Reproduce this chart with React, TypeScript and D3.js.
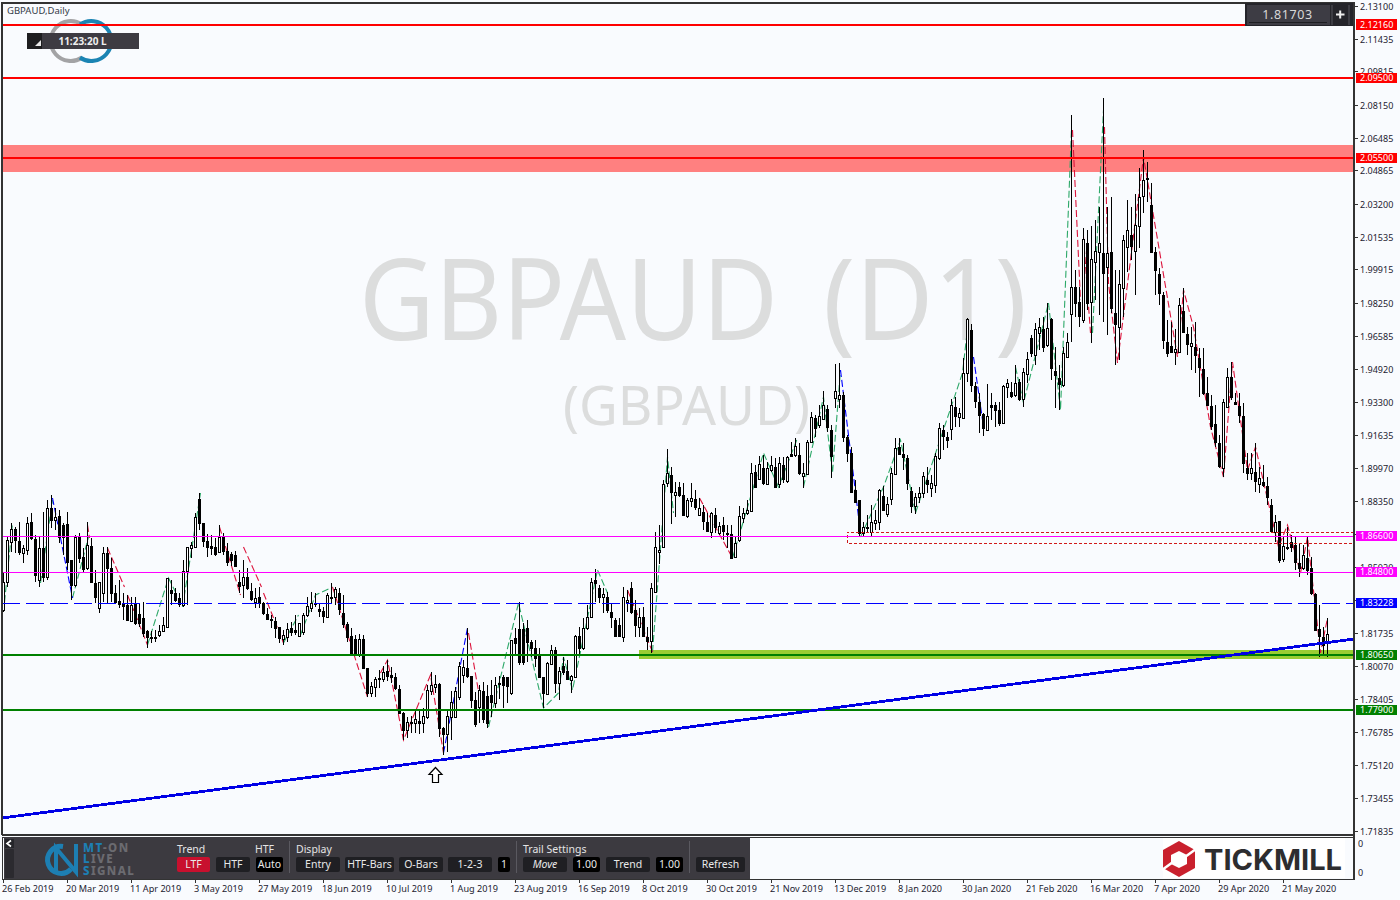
import React from "react";
import * as d3 from "d3";

type Bar = [number, number, number, number]; // open, high, low, close

const bars26Feb2019: Bar[] = [
[1.8290,1.8480,1.8280,1.8430],[1.8430,1.8655,1.8405,1.8640],[1.8630,1.8725,1.8580,1.8695],[1.8695,1.8705,1.8575,1.8640],
[1.8635,1.8730,1.8565,1.8580],[1.8575,1.8615,1.8525,1.8600],[1.8590,1.8755,1.8565,1.8725],[1.8730,1.8775,1.8640,1.8650],
[1.8645,1.8665,1.8430,1.8465],[1.8440,1.8655,1.8405,1.8600],[1.8600,1.8780,1.8430,1.8455],[1.8455,1.8840,1.8440,1.8800],
[1.8800,1.8865,1.8700,1.8740],[1.8740,1.8800,1.8690,1.8755],[1.8760,1.8790,1.8625,1.8655],[1.8715,1.8725,1.8565,1.8655]];
const bars20Mar2019: Bar[] = [
[1.8720,1.8780,1.8490,1.8530],[1.8540,1.8540,1.8340,1.8415],[1.8415,1.8665,1.8405,1.8655],[1.8655,1.8675,1.8525,1.8550],
[1.8555,1.8600,1.8475,1.8495],[1.8500,1.8730,1.8490,1.8615],[1.8610,1.8650,1.8425,1.8430],[1.8425,1.8490,1.8325,1.8355],
[1.8300,1.8430,1.8275,1.8430],[1.8375,1.8605,1.8330,1.8575],[1.8575,1.8605,1.8325,1.8500],[1.8500,1.8550,1.8330,1.8375],
[1.8375,1.8415,1.8325,1.8330],[1.8335,1.8440,1.8300,1.8320],[1.8325,1.8375,1.8240,1.8310],[1.8315,1.8365,1.8240,1.8240]];
const bars11Apr2019: Bar[] = [
[1.8235,1.8355,1.8230,1.8315],[1.8320,1.8355,1.8215,1.8225],[1.8270,1.8325,1.8205,1.8225],[1.8250,1.8330,1.8155,1.8175],
[1.8185,1.8190,1.8100,1.8155],[1.8155,1.8185,1.8125,1.8153],[1.8153,1.8190,1.8130,1.8155],[1.8165,1.8215,1.8155,1.8185],
[1.8185,1.8255,1.8180,1.8215],[1.8205,1.8450,1.8200,1.8450],[1.8390,1.8440,1.8315,1.8375],[1.8375,1.8400,1.8330,1.8340],
[1.8350,1.8375,1.8305,1.8320],[1.8315,1.8540,1.8305,1.8485],[1.8485,1.8605,1.8315,1.8605],[1.8600,1.8630,1.8550,1.8615]];
const bars3May2019: Bar[] = [
[1.8605,1.8775,1.8600,1.8755],[1.8845,1.8875,1.8690,1.8725],[1.8725,1.8725,1.8605,1.8635],[1.8635,1.8670,1.8555,1.8605],
[1.8610,1.8665,1.8565,1.8600],[1.8605,1.8650,1.8560,1.8570],[1.8580,1.8715,1.8575,1.8655],[1.8655,1.8675,1.8565,1.8585],
[1.8585,1.8625,1.8510,1.8530],[1.8570,1.8580,1.8510,1.8540],[1.8565,1.8585,1.8505,1.8510],[1.8430,1.8490,1.8375,1.8410],
[1.8415,1.8540,1.8350,1.8455],[1.8455,1.8500,1.8390,1.8400],[1.8385,1.8425,1.8335,1.8345],[1.8330,1.8400,1.8300,1.8350]];
const bars27May2019: Bar[] = [
[1.8355,1.8405,1.8300,1.8325],[1.8325,1.8330,1.8265,1.8275],[1.8270,1.8300,1.8240,1.8245],[1.8245,1.8265,1.8200,1.8240],
[1.8235,1.8255,1.8150,1.8200],[1.8205,1.8205,1.8125,1.8150],[1.8145,1.8190,1.8115,1.8165],[1.8155,1.8225,1.8130,1.8195],
[1.8200,1.8230,1.8160,1.8180],[1.8190,1.8265,1.8165,1.8180],[1.8160,1.8225,1.8155,1.8225],[1.8180,1.8275,1.8165,1.8265],
[1.8265,1.8355,1.8255,1.8310],[1.8300,1.8380,1.8280,1.8325],[1.8325,1.8375,1.8305,1.8320],[1.8295,1.8325,1.8255,1.8285]];
const bars18Jun2019: Bar[] = [
[1.8285,1.8305,1.8225,1.8260],[1.8255,1.8375,1.8250,1.8365],[1.8355,1.8425,1.8325,1.8350],[1.8355,1.8405,1.8315,1.8395],
[1.8375,1.8400,1.8265,1.8295],[1.8275,1.8365,1.8200,1.8220],[1.8220,1.8230,1.8130,1.8155],[1.8160,1.8200,1.8070,1.8075],
[1.8145,1.8165,1.8065,1.8075],[1.8065,1.8170,1.8055,1.8145],[1.8145,1.8165,1.7995,1.8000],[1.8000,1.8000,1.7855,1.7875],
[1.7875,1.7930,1.7855,1.7910],[1.7905,1.7955,1.7855,1.7945],[1.7950,1.7990,1.7900,1.7948],[1.7945,1.8010,1.7930,1.7980]];
const bars10Jul2019: Bar[] = [
[1.7985,1.8040,1.7935,1.7960],[1.7965,1.8005,1.7925,1.7955],[1.7955,1.7975,1.7890,1.7900],[1.7895,1.7915,1.7775,1.7775],
[1.7775,1.7780,1.7640,1.7690],[1.7690,1.7755,1.7650,1.7730],[1.7730,1.7760,1.7675,1.7728],[1.7725,1.7785,1.7675,1.7745],
[1.7735,1.7790,1.7670,1.7725],[1.7725,1.7800,1.7675,1.7760],[1.7755,1.7915,1.7745,1.7890],[1.7885,1.7980,1.7865,1.7915],
[1.7905,1.7965,1.7875,1.7920],[1.7920,1.7925,1.7655,1.7700],[1.7700,1.7705,1.7565,1.7670],[1.7670,1.7785,1.7580,1.7760]];
const bars1Aug2019: Bar[] = [
[1.7755,1.7885,1.7640,1.7830],[1.7755,1.7905,1.7755,1.7885],[1.7855,1.8030,1.7840,1.8010],[1.7965,1.8040,1.7925,1.8005],
[1.8000,1.8200,1.7950,1.7960],[1.7960,1.7960,1.7800,1.7840],[1.7840,1.7880,1.7705,1.7720],[1.7805,1.7915,1.7725,1.7890],
[1.7885,1.7930,1.7725,1.7745],[1.7860,1.7915,1.7700,1.7725],[1.7865,1.7940,1.7755,1.7830],[1.7825,1.7955,1.7800,1.7915],
[1.7925,1.7960,1.7845,1.7923],[1.7955,1.7965,1.7800,1.7915],[1.7955,1.7955,1.7825,1.7910],[1.7875,1.8140,1.7865,1.8140]];
const bars23Aug2019: Bar[] = [
[1.8150,1.8200,1.8065,1.8125],[1.8195,1.8330,1.8015,1.8030],[1.8195,1.8225,1.8015,1.8030],[1.8200,1.8240,1.8030,1.8130],
[1.8130,1.8140,1.8055,1.8100],[1.8100,1.8140,1.8005,1.8050],[1.8065,1.8100,1.7950,1.7955],[1.7955,1.7955,1.7800,1.7875],
[1.7870,1.8030,1.7865,1.8025],[1.8020,1.8115,1.8015,1.8090],[1.8090,1.8105,1.7875,1.7925],[1.7925,1.8005,1.7840,1.7985],
[1.8010,1.8055,1.7965,1.7980],[1.7985,1.8040,1.7940,1.7945],[1.7940,1.7965,1.7875,1.7960],[1.7955,1.8165,1.7950,1.8160]];
const bars16Sep2019: Bar[] = [
[1.8160,1.8205,1.8065,1.8100],[1.8100,1.8250,1.8090,1.8200],[1.8200,1.8315,1.8190,1.8255],[1.8255,1.8450,1.8250,1.8430],
[1.8440,1.8495,1.8330,1.8425],[1.8400,1.8415,1.8325,1.8355],[1.8355,1.8400,1.8275,1.8370],[1.8355,1.8380,1.8275,1.8290],
[1.8280,1.8325,1.8200,1.8255],[1.8240,1.8250,1.8155,1.8160],[1.8215,1.8250,1.8155,1.8160],[1.8155,1.8405,1.8130,1.8355],
[1.8330,1.8390,1.8280,1.8340],[1.8400,1.8430,1.8270,1.8280],[1.8290,1.8340,1.8155,1.8215],[1.8205,1.8300,1.8155,1.8255]];
const bars8Oct2019: Bar[] = [
[1.8255,1.8305,1.8155,1.8160],[1.8155,1.8205,1.8090,1.8135],[1.8135,1.8425,1.8075,1.8400],[1.8380,1.8680,1.8375,1.8605],
[1.8580,1.8715,1.8520,1.8590],[1.8605,1.8940,1.8600,1.8920],[1.8925,1.9095,1.8905,1.8975],[1.8965,1.9005,1.8720,1.8880],
[1.8865,1.8930,1.8755,1.8880],[1.8905,1.8930,1.8855,1.8865],[1.8865,1.8925,1.8765,1.8765],[1.8760,1.8850,1.8750,1.8840],
[1.8835,1.8925,1.8805,1.8850],[1.8845,1.8890,1.8790,1.8805],[1.8765,1.8850,1.8765,1.8800],[1.8780,1.8815,1.8690,1.8735]];
const bars30Oct2019: Bar[] = [
[1.8730,1.8775,1.8685,1.8685],[1.8680,1.8780,1.8650,1.8775],[1.8765,1.8800,1.8675,1.8705],[1.8675,1.8730,1.8665,1.8710],
[1.8715,1.8755,1.8640,1.8685],[1.8675,1.8715,1.8600,1.8673],[1.8670,1.8715,1.8550,1.8550],[1.8555,1.8655,1.8550,1.8625],
[1.8640,1.8810,1.8630,1.8760],[1.8750,1.8800,1.8725,1.8775],[1.8775,1.8840,1.8765,1.8790],[1.8785,1.9025,1.8780,1.8975],
[1.8980,1.9015,1.8905,1.8905],[1.8945,1.9060,1.8940,1.9020],[1.9000,1.9065,1.8915,1.8925],[1.8920,1.9030,1.8915,1.9000]];
const bars21Nov2019: Bar[] = [
[1.8990,1.9060,1.8980,1.9015],[1.9005,1.9050,1.8900,1.8905],[1.8920,1.9055,1.8900,1.9025],[1.9015,1.9055,1.8925,1.8945],
[1.8935,1.9060,1.8925,1.9055],[1.9070,1.9130,1.9055,1.9060],[1.9065,1.9150,1.9055,1.9110],[1.9065,1.9125,1.8965,1.8975],
[1.8960,1.9025,1.8900,1.8975],[1.8970,1.9140,1.8965,1.9130],[1.9130,1.9280,1.9125,1.9255],[1.9250,1.9265,1.9155,1.9200],
[1.9215,1.9315,1.9200,1.9260],[1.9245,1.9385,1.9240,1.9315],[1.9295,1.9315,1.9180,1.9205],[1.9190,1.9215,1.8950,1.9060]];
const bars13Dec2019: Bar[] = [
[1.9350,1.9520,1.9300,1.9385],[1.9345,1.9525,1.9300,1.9365],[1.9365,1.9380,1.9130,1.9155],[1.9155,1.9165,1.9030,1.9075],
[1.9075,1.9105,1.8875,1.8880],[1.8890,1.8940,1.8825,1.8830],[1.8840,1.8840,1.8655,1.8675],[1.8675,1.8730,1.8660,1.8705],
[1.8705,1.8765,1.8680,1.8703],[1.8680,1.8815,1.8655,1.8730],[1.8725,1.8790,1.8690,1.8740],[1.8730,1.8895,1.8690,1.8890],
[1.8860,1.8910,1.8790,1.8790],[1.8770,1.8855,1.8755,1.8820],[1.8845,1.9000,1.8815,1.8975],[1.8970,1.9150,1.8965,1.9100]];
const bars8Jan2020: Bar[] = [
[1.9105,1.9150,1.9065,1.9070],[1.9070,1.9125,1.8990,1.9055],[1.9050,1.9065,1.8890,1.8925],[1.8885,1.8905,1.8775,1.8810],
[1.8810,1.8875,1.8770,1.8855],[1.8855,1.8905,1.8825,1.8875],[1.8875,1.8980,1.8850,1.8960],[1.8940,1.9005,1.8875,1.8920],
[1.8900,1.8965,1.8855,1.8925],[1.8915,1.9075,1.8875,1.9060],[1.9050,1.9225,1.9040,1.9200],[1.9190,1.9215,1.9090,1.9160],
[1.9155,1.9180,1.9100,1.9140],[1.9195,1.9345,1.9140,1.9315],[1.9305,1.9355,1.9205,1.9260],[1.9255,1.9300,1.9205,1.9275]];
const bars30Jan2020: Bar[] = [
[1.9250,1.9550,1.9245,1.9475],[1.9475,1.9750,1.9430,1.9745],[1.9690,1.9720,1.9380,1.9415],[1.9410,1.9430,1.9300,1.9335],
[1.9330,1.9375,1.9175,1.9265],[1.9270,1.9275,1.9160,1.9200],[1.9190,1.9420,1.9185,1.9260],[1.9315,1.9375,1.9240,1.9305],
[1.9315,1.9330,1.9205,1.9290],[1.9290,1.9330,1.9210,1.9225],[1.9225,1.9415,1.9220,1.9410],[1.9405,1.9445,1.9350,1.9425],
[1.9380,1.9430,1.9350,1.9360],[1.9365,1.9515,1.9355,1.9425],[1.9430,1.9445,1.9335,1.9345],[1.9345,1.9500,1.9305,1.9480]];
const bars21Feb2020: Bar[] = [
[1.9470,1.9580,1.9425,1.9545],[1.9650,1.9665,1.9555,1.9575],[1.9565,1.9725,1.9515,1.9695],[1.9675,1.9750,1.9590,1.9705],
[1.9695,1.9755,1.9580,1.9605],[1.9615,1.9825,1.9605,1.9700],[1.9745,1.9750,1.9440,1.9500],[1.9485,1.9605,1.9300,1.9465],
[1.9450,1.9515,1.9290,1.9420],[1.9415,1.9605,1.9405,1.9575],[1.9555,1.9675,1.9550,1.9630],[1.9770,2.0765,1.9630,1.9905],
[1.9905,1.9990,1.9755,1.9825],[1.9830,1.9905,1.9705,1.9760],[1.9740,2.0200,1.9725,2.0145],[2.0125,2.0190,1.9790,1.9825]];
const bars16Mar2020: Bar[] = [
[1.9830,2.0210,1.9625,2.0045],[2.0030,2.0240,1.9840,2.0085],[2.0080,2.0305,1.9765,2.0125],[2.0075,2.0850,1.9730,1.9975],
[2.0005,2.0305,1.9665,2.0075],[2.0080,2.0355,1.9775,1.9800],[1.9775,1.9990,1.9515,1.9720],[1.9705,1.9990,1.9540,1.9920],
[1.9900,2.0165,1.9755,2.0140],[2.0105,2.0340,1.9980,2.0190],[2.0165,2.0305,2.0040,2.0110],[2.0085,2.0370,1.9865,2.0215],
[2.0210,2.0500,2.0100,2.0355],[2.0360,2.0590,2.0275,2.0440],[2.0450,2.0530,2.0330,2.0448],[2.0315,2.0425,2.0075,2.0080]];
const bars7Apr2020: Bar[] = [
[2.0080,2.0105,1.9865,1.9990],[1.9970,2.0000,1.9815,1.9875],[1.9865,1.9880,1.9595,1.9640],[1.9630,1.9740,1.9555,1.9575],
[1.9610,1.9730,1.9575,1.9580],[1.9580,1.9695,1.9515,1.9595],[1.9580,1.9850,1.9575,1.9815],[1.9785,1.9900,1.9680,1.9680],
[1.9670,1.9705,1.9565,1.9620],[1.9610,1.9705,1.9490,1.9625],[1.9605,1.9730,1.9475,1.9565],[1.9550,1.9600,1.9355,1.9505],
[1.9495,1.9600,1.9365,1.9375],[1.9375,1.9455,1.9310,1.9315],[1.9310,1.9365,1.9190,1.9210],[1.9220,1.9315,1.9105,1.9130]];
const bars29Apr2020: Bar[] = [
[1.9125,1.9165,1.9000,1.9010],[1.9000,1.9345,1.8955,1.9330],[1.9305,1.9500,1.9305,1.9455],[1.9455,1.9530,1.9340,1.9355],
[1.9330,1.9375,1.9315,1.9320],[1.9310,1.9375,1.9225,1.9265],[1.9260,1.9325,1.8975,1.9025],[1.9000,1.9075,1.8940,1.8975],
[1.8975,1.9075,1.8940,1.9000],[1.8980,1.9125,1.8880,1.8935],[1.8920,1.9005,1.8875,1.8950],[1.8930,1.9015,1.8905,1.8915],
[1.8910,1.8955,1.8815,1.8855],[1.8815,1.8845,1.8680,1.8685],[1.8680,1.8765,1.8630,1.8730],[1.8735,1.8735,1.8525,1.8540]];
const bars21May2020: Bar[] = [
[1.8545,1.8655,1.8530,1.8610],[1.8605,1.8705,1.8590,1.8603],[1.8630,1.8665,1.8580,1.8605],[1.8615,1.8655,1.8490,1.8530],
[1.8525,1.8625,1.8455,1.8500],[1.8500,1.8615,1.8490,1.8565],[1.8550,1.8655,1.8465,1.8490],[1.8500,1.8555,1.8365,1.8375],
[1.8370,1.8375,1.8185,1.8190],[1.8195,1.8315,1.8055,1.8160],[1.8155,1.8205,1.8060,1.8115],[1.8135,1.8250,1.8055,1.8170]];

const allBars: Bar[] = [
  ...bars26Feb2019, ...bars20Mar2019, ...bars11Apr2019, ...bars3May2019, ...bars27May2019, ...bars18Jun2019, ...bars10Jul2019,
  ...bars1Aug2019, ...bars23Aug2019, ...bars16Sep2019, ...bars8Oct2019, ...bars30Oct2019, ...bars21Nov2019, ...bars13Dec2019,
  ...bars8Jan2020, ...bars30Jan2020, ...bars21Feb2020, ...bars16Mar2020, ...bars7Apr2020, ...bars29Apr2020, ...bars21May2020,
];

const dateLabels = ["26 Feb 2019","20 Mar 2019","11 Apr 2019","3 May 2019","27 May 2019","18 Jun 2019","10 Jul 2019","1 Aug 2019","23 Aug 2019","16 Sep 2019","8 Oct 2019","30 Oct 2019","21 Nov 2019","13 Dec 2019","8 Jan 2020","30 Jan 2020","21 Feb 2020","16 Mar 2020","7 Apr 2020","29 Apr 2020","21 May 2020"];
const dateStep = 16;
const priceTicks = [2.131,2.11435,2.09815,2.0815,2.06485,2.04865,2.032,2.01535,1.99915,1.9825,1.96585,1.9492,1.933,1.91635,1.8997,1.8835,1.8502,1.81735,1.8007,1.78405,1.76785,1.7512,1.73455,1.71835];
const hiddenPriceTicks = [1.86685, 1.834];

type Pt = [number, number];
const greenSignals: Pt[][] = [
  [[0,1.8280],[2.25,1.8725]],
  [[9.25,1.8425],[12.25,1.8840]],
  [[17.25,1.8350],[21.25,1.8655]],
  [[36,1.8115],[41.25,1.8450],[43,1.8380]],
  [[44.75,1.8305],[49.25,1.8875]],
  [[70,1.8125],[73.75,1.8265]],
  [[74.25,1.8165],[78,1.8365],[82.25,1.8405]],
  [[121.25,1.7705],[128.75,1.8325],[135,1.7800],[138.75,1.7875],[140,1.8055],[142.25,1.7890],[148.5,1.8490],[151,1.8375]],
  [[162.25,1.8080],[166,1.9055],[167.5,1.8775]],
  [[182.25,1.8550],[190,1.9075],[193.75,1.8905],[198.5,1.9150]],
  [[200,1.8905],[205,1.9355],[207.25,1.8975],[209.25,1.9490]],
  [[214.25,1.8655],[220,1.8905],[224.25,1.9140],[228,1.8775],[239.75,1.9475],[241.25,1.9740]],
  [[253,1.9505],[255,1.9325],[261.25,1.9825],[264.25,1.9290],[267,2.0690]],
  [[272.25,1.9675],[275,2.0790]],
];
const redSignals: Pt[][] = [
  [[21,1.8715],[21.5,1.8650]],
  [[26,1.8600],[30.25,1.8405]],
  [[31,1.8365],[36,1.8115]],
  [[54,1.8705],[59.25,1.8365]],
  [[60,1.8605],[64.5,1.8405]],
  [[65,1.8375],[70,1.8125]],
  [[82.25,1.8405],[91,1.7855]],
  [[94.25,1.7975],[96,1.8040],[100,1.7640],[106.75,1.7965],[110,1.7575]],
  [[116.25,1.8175],[119.25,1.7825]],
  [[156,1.8390],[162.25,1.8080]],
  [[174,1.8850],[182.25,1.8550]],
  [[267.25,2.0690],[269.25,1.9840]],
  [[270,2.0155],[271.75,1.9675]],
  [[275.25,2.0705],[276.25,1.9925],[278.5,1.9525],[285,2.0555],[293.5,1.9555],[295,1.9890],[297.5,1.9705],[301.75,1.9205],[305,1.8955],[307.25,1.9530],[311,1.8990],[313,1.9105],[318.75,1.8605],[321,1.8715],[324.25,1.8475],[326,1.8655],[329.25,1.8075],[331,1.8250]],
];
const blueSignals: Pt[][] = [
  [[12.25,1.8850],[17.25,1.8350]],
  [[110,1.7575],[116,1.8200]],
  [[209.25,1.9490],[214.25,1.8675]],
  [[242.5,1.9555],[244.75,1.9240]],
  [[261,1.9775],[261,1.9690]],
];

const levelValues = [2.1216, 2.095, 2.055, 1.866, 1.848, 1.83228, 1.8065, 1.779];
const levelColors = ["#ff0000","#ff0000","#ff0000","#ff00ff","#ff00ff","#0000ff","#008000","#008000"];
const levelWidths = [2, 2, 2, 1, 1, 1, 2, 2];
const redBand = [2.0615, 2.048];
const greenBand = [1.8088, 1.8045];
const greenBandStartBar = 159;
const dashedBox = [1.868, 1.8625];
const dashedBoxStartBar = 211;
const trendLine: Pt[] = [[-0.25, 1.725], [337.75, 1.8145]];
const arrowBar = 108;
const arrowPrice = 1.7465;
const lastPrice = "1.81703";

const FONT = "'Noto Sans', 'Liberation Sans', sans-serif";
const BG = "#f9fbfe";
const INK = "#1d2230";

const x = d3.scaleLinear().domain([0, 331]).range([3, 1327]);
const y = d3.scaleLinear().domain([2.134, 1.7155]).range([0, 837]);
const line = d3.line<Pt>().x((d) => x(d[0]) + 0.5).y((d) => y(d[1]));

function Button({ x0, w, label, fill = "#1f1f23", italic = false }: { x0: number; w: number; label: string; fill?: string; italic?: boolean }) {
  return (
    <g>
      <rect x={x0} y={857} width={w} height={15} rx={2} fill={fill} />
      <text x={x0 + w / 2} y={868} textAnchor="middle" fontFamily={FONT} fontSize={10.5} fill="#e8e8e8" fontStyle={italic ? "italic" : "normal"}>{label}</text>
    </g>
  );
}

function Candles() {
  return (
    <g shapeRendering="crispEdges">
      {allBars.map(([o, h, l, c], i) => {
        const cx = Math.round(x(i));
        const top = Math.round(y(Math.max(o, c)));
        const bot = Math.max(Math.round(y(Math.min(o, c))), top + 1);
        const wickTop = Math.round(y(h));
        const wickBot = Math.round(y(l));
        return (
          <g key={i}>
            <rect x={cx} y={wickTop} width={1} height={Math.max(1, wickBot - wickTop)} fill="#000" />
            <rect x={cx - 1} y={top} width={3} height={bot - top + 1} fill="#000" />
            {c >= o && bot - top >= 2 && <rect x={cx} y={top + 1} width={1} height={bot - top - 1} fill="#fff" />}
          </g>
        );
      })}
    </g>
  );
}

export default function App() {
  const xLeft = 2;
  const xRight = 1354;
  const dashedTop = y(dashedBox[0]);
  const dashedBottom = y(dashedBox[1]);
  const dashedX = x(dashedBoxStartBar);
  const arrowX = x(arrowBar) + 0.5;
  const arrowY = y(arrowPrice);
  return (
    <>
      <style>{`html,body{margin:0;padding:0;background:${BG};overflow:hidden}`}</style>
      <svg width={1400} height={900} viewBox="0 0 1400 900" style={{ position: "absolute", left: 0, top: 0, display: "block" }}>
        <rect width={1400} height={900} fill={BG} />

        {/* watermark */}
        <text y={340} fontFamily={FONT} fontSize={114} fill="#dcdddd">
          <tspan x={359} textLength={419} lengthAdjust="spacingAndGlyphs">GBPAUD</tspan>
          <tspan x={823} textLength={204} lengthAdjust="spacingAndGlyphs">(D1)</tspan>
        </text>
        <text x={563} y={425} fontFamily={FONT} fontSize={54} textLength={247} lengthAdjust="spacingAndGlyphs" fill="#dcdddd">(GBPAUD)</text>

        {/* logo behind the levels */}
        <path d="M82,24.5 A20,20 0 1 0 82,57.5" fill="none" stroke="#a3a3a5" strokeWidth={4} />
        <path d="M80,24.5 A20,20 0 1 1 80,57.5" fill="none" stroke="#1b84b3" strokeWidth={4} />

        {/* zones */}
        <rect x={xLeft} width={xRight - xLeft} y={y(redBand[0])} height={y(redBand[1]) - y(redBand[0])} fill="#ff8080" shapeRendering="crispEdges" />
        <rect x={x(greenBandStartBar)} width={xRight - x(greenBandStartBar)} y={y(greenBand[0])} height={y(greenBand[1]) - y(greenBand[0])} fill="#9acd32" shapeRendering="crispEdges" />

        {/* signal lines */}
        <g fill="none" strokeWidth={1.1} strokeDasharray="7 3">
          {greenSignals.map((s, i) => <path key={i} d={line(s) ?? ""} stroke="#2ca868" />)}
          {redSignals.map((s, i) => <path key={i} d={line(s) ?? ""} stroke="#dc143c" />)}
          {blueSignals.map((s, i) => <path key={i} d={line(s) ?? ""} stroke="#0000ff" />)}
        </g>

        <Candles />

        {/* dashed box */}
        <path d={`M${xRight},${dashedTop}H${dashedX}V${dashedBottom}H${xRight}`} fill="none" stroke="#d01818" strokeWidth={1} strokeDasharray="3 2" shapeRendering="crispEdges" />

        {/* levels */}
        {levelValues.map((v, i) => (
          <line key={v} x1={xLeft} x2={xRight} y1={y(v)} y2={y(v)} stroke={levelColors[i]} strokeWidth={levelWidths[i]}
            strokeDasharray={i === 5 ? "18 6" : undefined} shapeRendering="crispEdges" />
        ))}
        <path d={d3.line<Pt>().x((d) => x(d[0])).y((d) => y(d[1]))(trendLine) ?? ""} stroke="#0000e6" strokeWidth={2.8} fill="none" shapeRendering="crispEdges" />

        {/* up arrow */}
        <path transform={`translate(${arrowX},${arrowY})`} d="M0,-7.5 L6.5,-0.5 L3,-0.5 L3,7.5 L-3,7.5 L-3,-0.5 L-6.5,-0.5 Z" fill="#fff" stroke="#000" strokeWidth={1.2} />

        {/* frame */}
        <g fill="none" stroke="#333" strokeWidth={1} shapeRendering="crispEdges">
          <path d={`M2,835V2.5H${xRight}V880`} strokeWidth={2} />
          <line x1={2} x2={xRight} y1={835} y2={835} strokeWidth={1.5} />
          <line x1={2} x2={xRight} y1={837} y2={837} />
          <line x1={2} x2={xRight} y1={879.5} y2={879.5} />
          <line x1={2} x2={2} y1={837} y2={880} />
        </g>

        {/* price axis */}
        {hiddenPriceTicks.map((p) => (
          <line key={p} x1={xRight} x2={xRight + 4} y1={y(p)} y2={y(p)} stroke="#333" shapeRendering="crispEdges" />
        ))}
        <g fontFamily={FONT} fontSize={9} fill={INK}>
          {priceTicks.map((p) => (
            <g key={p}>
              <line x1={xRight} x2={xRight + 4} y1={y(p)} y2={y(p)} stroke="#333" shapeRendering="crispEdges" />
              <text x={1360} y={y(p) + 3.5}>{p.toFixed(5)}</text>
            </g>
          ))}
          <text x={1358} y={846.5}>0</text>
          <text x={1358} y={876}>0</text>
        </g>
        <g fontFamily={FONT} fontSize={9}>
          {levelValues.map((v, i) => (
            <g key={v}>
              <rect x={1356} y={y(v) - 5.5} width={41} height={10.5} fill={levelColors[i]} shapeRendering="crispEdges" />
              <text x={1360} y={y(v) + 3} fill="#fff">{v.toFixed(5)}</text>
            </g>
          ))}
        </g>

        {/* time axis */}
        <g fontFamily={FONT} fontSize={9.15} fill={INK}>
          {dateLabels.map((d, i) => (
            <g key={d}>
              <line x1={x(i * dateStep)} x2={x(i * dateStep)} y1={879} y2={883} stroke="#333" shapeRendering="crispEdges" />
              <text x={x(i * dateStep) - 1} y={892}>{d}</text>
            </g>
          ))}
        </g>

        {/* title and clock */}
        <text x={7} y={14} fontFamily={FONT} fontSize={9.5} fill="#333a48">GBPAUD,Daily</text>
        <rect x={27} y={33} width={112} height={16} fill="#3d3b42" />
        <rect x={27} y={33} width={15} height={16} fill="#1e1e20" />
        <path d="M35,46 L41,46 L41,40 Z" fill="#e8e8e8" />
        <text x={82.5} y={44.5} textAnchor="middle" fontFamily={FONT} fontSize={10} fontWeight={700} fill="#eeeeee">11:23:20 L</text>

        {/* last price box */}
        <rect x={1245} y={3} width={108} height={23} fill="#24242a" />
        <rect x={1247} y={5} width={83} height={20} fill="#3d3c44" />
        <line x1={1249} x2={1327} y1={22.5} y2={22.5} stroke="#1e1e22" />
        <text x={1287.5} y={19} textAnchor="middle" fontFamily={FONT} fontSize={12.5} letterSpacing={0.6} fill="#d8d8d8">{lastPrice}</text>
        <line x1={1332} x2={1332} y1={5} y2={25} stroke="#55545c" />
        <line x1={1349} x2={1349} y1={5} y2={25} stroke="#55545c" />
        <path d="M1336,14.5H1344.5M1340.2,10.5V18.5" stroke="#eee" strokeWidth={2} fill="none" />

        {/* indicator panel */}
        <rect x={4} y={837} width={746} height={42} fill="#3c3a40" />
        <rect x={5} y={839} width={9} height={9} fill="#25252a" />
        <path d="M11,840.5 L7,843.5 L11,846.5" stroke="#fff" strokeWidth={1.6} fill="none" />
        <rect x={5} y={849} width={9} height={29} rx={1} fill="#2b2a2f" />
        <path d="M63,846.5 A13.5,13.5 0 1 0 71,869" fill="none" stroke="#1d7fb3" strokeWidth={5} />
        <path d="M56,873 V848 L76,872 V844" fill="none" stroke="#1d7fb3" strokeWidth={4} />
        <g fontFamily={FONT} fontSize={11.5} fontWeight={800} letterSpacing={1.4}>
          <text x={83} y={851.5} fill="#6b6b70"><tspan fill="#1d7fb3">M</tspan><tspan fill="#1d7fb3">T</tspan>-ON</text>
          <text x={83} y={863} fill="#6b6b70"><tspan fill="#1d7fb3">L</tspan>IVE</text>
          <text x={83} y={874.5} fill="#6b6b70"><tspan fill="#1d7fb3">S</tspan>IGNAL</text>
        </g>
        <g fontFamily={FONT} fontSize={10.5} fill="#e4e4e4">
          <text x={177} y={853}>Trend</text>
          <text x={255} y={853}>HTF</text>
          <text x={296} y={853}>Display</text>
          <text x={523} y={853}>Trail Settings</text>
        </g>
        <Button x0={177} w={33} label="LTF" fill="#c8102e" />
        <Button x0={216} w={34} label="HTF" />
        <Button x0={256} w={27} label="Auto" fill="#000" />
        <Button x0={296} w={44} label="Entry" />
        <Button x0={345} w={49} label="HTF-Bars" />
        <Button x0={399} w={44} label="O-Bars" />
        <Button x0={448} w={44} label="1-2-3" />
        <Button x0={498} w={12} label="1" fill="#000" />
        <Button x0={523} w={44} label="Move" italic />
        <Button x0={573} w={27} label="1.00" fill="#000" />
        <Button x0={606} w={44} label="Trend" />
        <Button x0={656} w={27} label="1.00" fill="#000" />
        <Button x0={696} w={49} label="Refresh" />
        {[289, 516, 689].map((sx) => <line key={sx} x1={sx} x2={sx} y1={841} y2={873} stroke="#5a5960" shapeRendering="crispEdges" />)}

        {/* broker logo */}
        <rect x={1163} y={838} width={182} height={40} fill="#ffffff" />
        <path d="M1179,841 L1195,850 V868 L1179,877 L1163,868 V850 Z" fill="#c9202d" />
        <path d="M1179,851 L1187,855 V864 L1179,868 L1171,864 V855 Z" fill="#fff" />
        <path d="M1185,857 L1196,849 M1173,862 L1162,870" stroke="#fff" strokeWidth={2.6} />
        <text x={1204} y={869.5} fontFamily="Inter, 'Liberation Sans', sans-serif" fontSize={28} fontWeight={700} textLength={138} lengthAdjust="spacingAndGlyphs" fill="#2d2d2f">TICKMILL</text>
      </svg>
    </>
  );
}
